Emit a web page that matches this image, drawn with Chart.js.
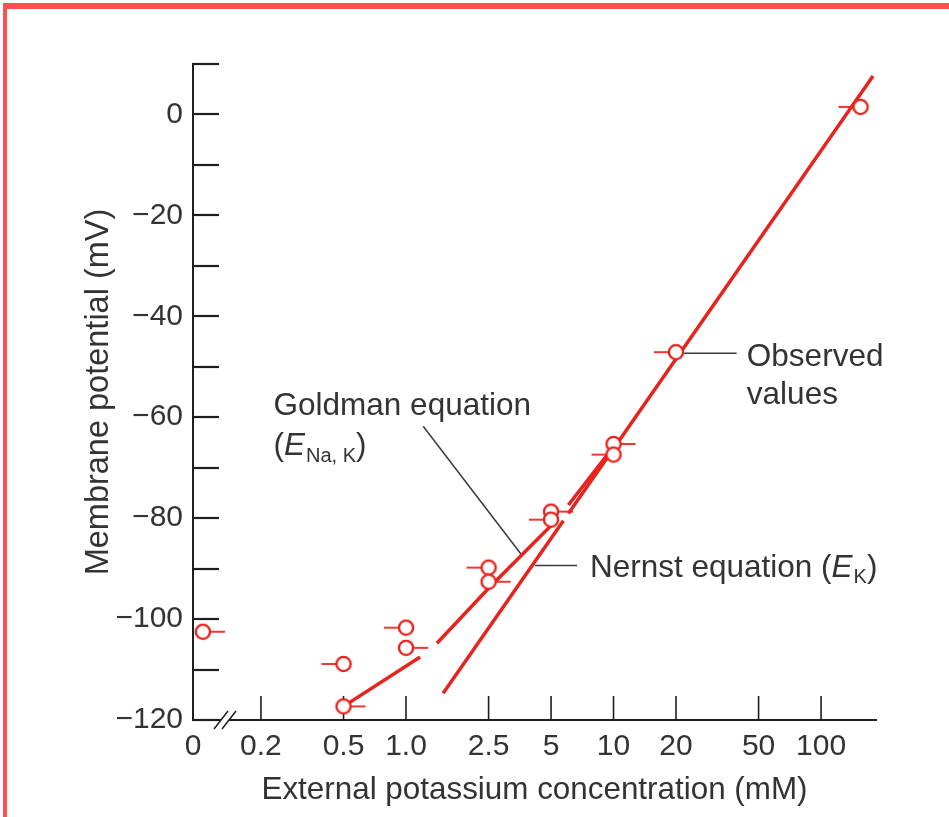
<!DOCTYPE html>
<html><head><meta charset="utf-8">
<script src="https://cdn.jsdelivr.net/npm/chart.js@4"></script>
<style>
html,body{margin:0;padding:0;background:#fff;}
#wrap{position:relative;width:949px;height:817px;overflow:hidden;background:#fff;}
#c{position:absolute;left:0;top:0;}
.bt{position:absolute;left:3px;top:3px;width:946px;height:6px;background:#ff5050;}
.bl{position:absolute;left:3px;top:3px;width:4px;height:814px;background:#ff5050;}
</style></head>
<body><div id="wrap"><canvas id="c" width="949" height="817"></canvas><div class="bt"></div><div class="bl"></div></div>
<script>
// ---- data ----
const obsConcentration = [0, 0.5, 0.5, 1.0, 1.0, 2.5, 2.5, 5, 5, 10, 10, 20, 155];            // mM
const obsPotential     = [-102.5, -108.9, -117.3, -101.7, -105.7, -89.8, -92.6, -78.7, -80.3, -65.3, -67.4, -47.1, 1.5]; // mV
const goldmanConcentration = [0.5, 1.17, 1.29, 1.41, 2.5, 5.13, 5.6, 6.06, 9.27];
const goldmanPotential     = [-117.3, -107.5, null, -104.8, -93.9, -81.0, null, -77.4, -67.6];
const nernstConcentration  = [1.51, 5.73, 5.9, 6.06, 178];
const nernstPotential      = [-114.7, -80.5, null, -79.1, 7.6];
const xTickValues = [0, 0.2, 0.5, 1, 2.5, 5, 10, 20, 50, 100];
const xTickLabels = ['0', '0.2', '0.5', '1.0', '2.5', '5', '10', '20', '50', '100'];
const yTickValues = [-120, -100, -80, -60, -40, -20, 0];

// ---- axis setup (broken log axis: "0" sits at the axis start) ----
const X_MIN = 0.0941, X_MAX = 184, Y_MIN = -120, Y_MAX = 10;
const ZERO_PLOTTED_AT = 0.105;
const markerSide = ['right','left','right','left','right','left','right','right','left','right','left','left','left'];

const RED = '#e8231d', INK = '#1e1e1e', TEXT = '#333333';
const FAMILY = "'Liberation Sans', Arial, Helvetica, sans-serif";
const FS = 30, FS_NOTE = 31.5;

function marker(side) {
  const R = 7.1, dash = 15;
  const w = Math.round(2 * (R + 1 + dash)) + 2, h = 20;
  const c = document.createElement('canvas'); c.width = w; c.height = h;
  const g = c.getContext('2d'); const cx = w / 2, cy = h / 2;
  g.strokeStyle = RED; g.lineWidth = 1.8;
  g.beginPath();
  if (side === 'left') { g.moveTo(cx - R - dash, cy); g.lineTo(cx - R, cy); }
  else { g.moveTo(cx + R, cy); g.lineTo(cx + R + dash, cy); }
  g.stroke();
  g.beginPath(); g.arc(cx, cy, R, 0, Math.PI * 2);
  g.fillStyle = '#fff'; g.fill(); g.lineWidth = 2.4; g.stroke();
  return c;
}

const toXY = (xs, ys, mapZero) => xs.map((x, i) => ({ x: (mapZero && x === 0) ? ZERO_PLOTTED_AT : x, y: ys[i] }));

// annotations (anchored in data units)
const notes = [
  { at: [0.23, -59.6], parts: [{ t: 'Goldman equation' }] },
  { at: [0.23, -67.5], parts: [{ t: '(' }, { t: 'E', i: 1 }, { t: 'Na, K', sub: 1 }, { t: ')' }] },
  { at: [7.7, -91.6], parts: [{ t: 'Nernst equation (' }, { t: 'E', i: 1 }, { t: 'K', sub: 1 }, { t: ')' }] },
  { at: [43.9, -49.9], parts: [{ t: 'Observed' }] },
  { at: [43.9, -57.4], parts: [{ t: 'values' }] }
];
const leaders = [
  [[1.21, -61.8], [3.58, -87.1]],
  [[4.18, -89.4], [6.67, -89.4]],
  [[21.9, -47.3], [39.2, -47.3]]
];

const decor = {
  id: 'decor',
  beforeDatasetsDraw(chart) {
    const { ctx, chartArea: a, scales: { x, y } } = chart;
    ctx.save();
    ctx.strokeStyle = INK; ctx.lineCap = 'butt';
    // y ticks (inward)
    ctx.lineWidth = 2.2;
    y.ticks.forEach(t => {
      const py = Math.round(y.getPixelForValue(t.value));
      ctx.beginPath(); ctx.moveTo(a.left, py); ctx.lineTo(a.left + 26, py); ctx.stroke();
    });
    // x ticks (inward)
    ctx.lineWidth = 1.6;
    x.ticks.forEach((t, i) => {
      if (i === 0) return;
      const px = x.getPixelForValue(t.value);
      ctx.beginPath(); ctx.moveTo(px, a.bottom); ctx.lineTo(px, a.bottom - 24); ctx.stroke();
    });
    // axis break "//"
    const bx = a.left + 32, by = a.bottom, dx = 7, dy = 9, sep = 4;
    ctx.fillStyle = '#fff';
    ctx.beginPath();
    ctx.moveTo(bx - sep - dx, by + dy); ctx.lineTo(bx - sep + dx, by - dy);
    ctx.lineTo(bx + sep + dx, by - dy); ctx.lineTo(bx + sep - dx, by + dy); ctx.closePath(); ctx.fill();
    ctx.lineWidth = 1.5;
    [-sep, sep].forEach(o => {
      ctx.beginPath(); ctx.moveTo(bx + o - dx, by + dy); ctx.lineTo(bx + o + dx, by - dy); ctx.stroke();
    });
    // leader lines
    ctx.strokeStyle = '#3a3a3a'; ctx.lineWidth = 1.5;
    leaders.forEach(([p, q]) => {
      ctx.beginPath();
      ctx.moveTo(x.getPixelForValue(p[0]), y.getPixelForValue(p[1]));
      ctx.lineTo(x.getPixelForValue(q[0]), y.getPixelForValue(q[1]));
      ctx.stroke();
    });
    // texts
    ctx.fillStyle = TEXT; ctx.textBaseline = 'alphabetic'; ctx.textAlign = 'left';
    notes.forEach(n => {
      let px = x.getPixelForValue(n.at[0]);
      const py = y.getPixelForValue(n.at[1]);
      n.parts.forEach(p => {
        ctx.font = (p.i ? 'italic ' : '') + (p.sub ? 20 : FS_NOTE) + 'px ' + FAMILY;
        ctx.fillText(p.t, px, py + (p.sub ? 6.5 : 0));
        px += ctx.measureText(p.t).width + (p.i ? 1 : 0);
      });
    });
    ctx.restore();
  }
};

new Chart(document.getElementById('c').getContext('2d'), {
  type: 'scatter',
  data: {
    datasets: [
      { label: 'Observed values', data: toXY(obsConcentration, obsPotential, true), showLine: false,
        pointStyle: markerSide.map(marker), pointRadius: 8, order: 0 },
      { label: 'Goldman equation', data: toXY(goldmanConcentration, goldmanPotential), showLine: true,
        spanGaps: false, borderColor: RED, borderWidth: 3.5, pointRadius: 0, tension: 0, order: 1 },
      { label: 'Nernst equation', data: toXY(nernstConcentration, nernstPotential), showLine: true,
        spanGaps: false, borderColor: RED, borderWidth: 3.5, pointRadius: 0, tension: 0, order: 2 }
    ]
  },
  options: {
    responsive: false, animation: false, events: [],
    layout: { padding: { top: 64, right: 73, left: 0, bottom: 0 } },
    plugins: { legend: { display: false }, tooltip: { enabled: false } },
    scales: {
      x: {
        type: 'logarithmic', min: X_MIN, max: X_MAX,
        afterBuildTicks: s => { s.ticks = xTickValues.map(v => ({ value: v === 0 ? X_MIN : v })); },
        afterFit: s => { s.height = 97; },
        grid: { display: false, drawTicks: false },
        border: { display: true, color: INK, width: 2 },
        ticks: { autoSkip: false, maxRotation: 0, padding: 9, color: TEXT,
          font: { family: FAMILY, size: FS }, callback: (v, i) => xTickLabels[i] },
        title: { display: true, text: 'External potassium concentration (mM)', color: TEXT,
          font: { family: FAMILY, size: 31.4 }, padding: { top: 0, bottom: 8 } }
      },
      y: {
        type: 'linear', min: Y_MIN, max: Y_MAX,
        ticks: { stepSize: 10, padding: 10, color: TEXT, font: { family: FAMILY, size: FS },
          callback: v => yTickValues.includes(v) ? (v < 0 ? '\u2212' + (-v) : String(v)) : '' },
        afterFit: s => { s.width = 193; },
        grid: { display: false, drawTicks: false },
        border: { display: true, color: INK, width: 2 },
        title: { display: true, text: 'Membrane potential (mV)', color: TEXT,
          font: { family: FAMILY, size: 32.5 }, padding: { top: 80, bottom: 0 } }
      }
    }
  },
  plugins: [decor]
});
</script>
</body></html>
